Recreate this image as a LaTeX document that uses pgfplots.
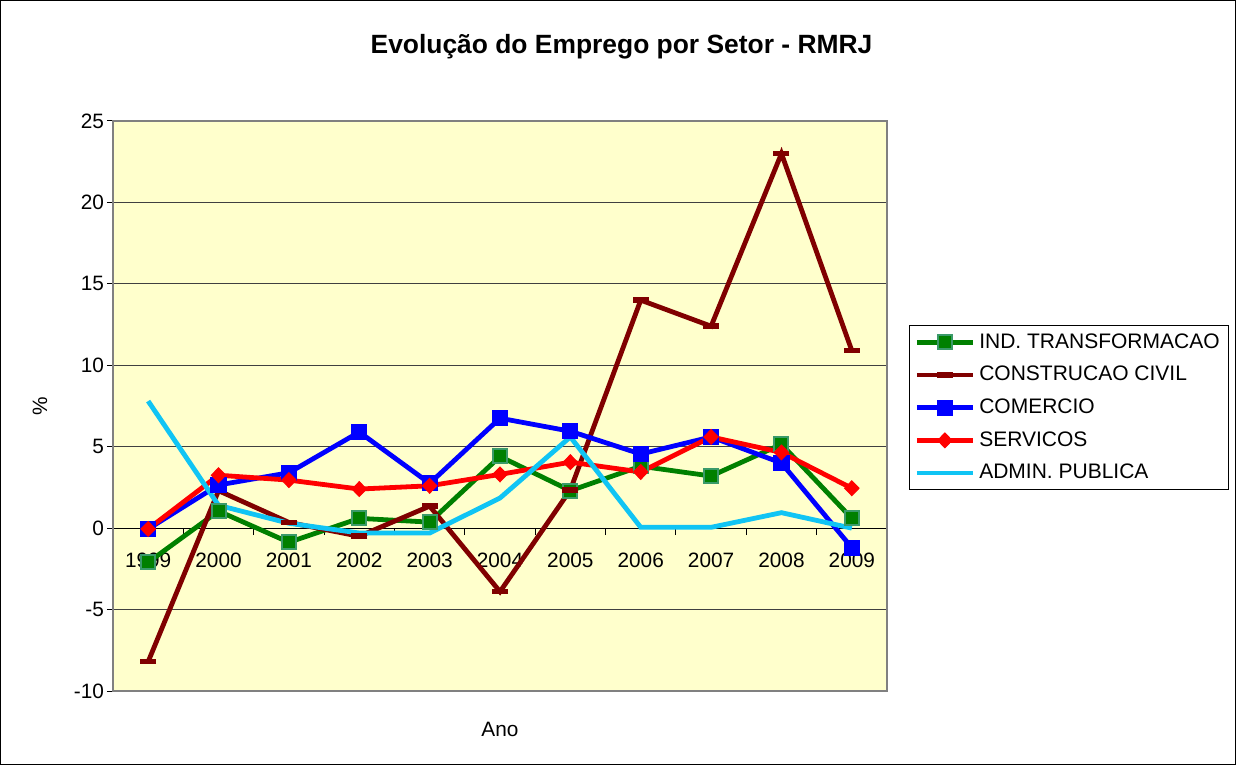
\documentclass[border=0pt]{standalone}
\usepackage{fontspec}
\setmainfont{Liberation Sans}
\usepackage{pgfplots}
\pgfplotsset{compat=1.18}
\definecolor{indg}{HTML}{008000}
\definecolor{indedge}{HTML}{3A9A6A}
\definecolor{consr}{HTML}{800000}
\definecolor{comb}{HTML}{0000FF}
\definecolor{servr}{HTML}{FF0000}
\definecolor{admc}{HTML}{10C4F4}
\definecolor{plotbg}{HTML}{FFFFCC}
\begin{document}
\begin{tikzpicture}
\useasboundingbox (-56.5pt,-37pt) rectangle (561.5pt,345.5pt);
\draw[black, line width=0.5pt] (-56.25pt,-36.75pt) rectangle (561.25pt,345.25pt);
\node[anchor=base, font=\fontsize{13.2}{15}\selectfont\bfseries] at (254.25pt,318.75pt) {Evolução do Emprego por Setor - RMRJ};
\begin{axis}[
  scale only axis, width=387pt, height=285pt,
  xmin=-0.5, xmax=10.5, ymin=-10, ymax=25,
  axis x line=middle, axis y line=left, axis line style={-},
  y axis line style={draw=gray},
  x axis line style={black, line width=0.5pt},
  clip=false,
  axis background/.style={fill=plotbg},
  ytick={-10,-5,0,5,10,15,20,25},
  xtick={0,1,2,3,4,5,6,7,8,9,10},
  xticklabels={1999,2000,2001,2002,2003,2004,2005,2006,2007,2008,2009},
  major x tick style={draw=none},
  minor xtick={0.5,1.5,2.5,3.5,4.5,5.5,6.5,7.5,8.5,9.5},
  minor tick length=3.5pt,
  major tick length=3pt,
  tick align=outside,
  tick style={black, line width=0.5pt},
  ymajorgrids,
  grid style={black!75, line width=0.5pt},
  /pgf/number format/assume math mode=true,
  ticklabel style={font=\fontsize{10.4}{12}\selectfont},
  xticklabel style={yshift=-6pt},
  yticklabel style={xshift=2pt},
  xlabel={Ano}, ylabel={\%},
  every axis x label/.style={at={(rel axis cs:0.5,0)}, yshift=-19pt, anchor=center, font=\fontsize{10.4}{12}\selectfont},
  every axis y label/.style={at={(rel axis cs:0,0.5)}, xshift=-36.5pt, rotate=90, anchor=center, font=\fontsize{10.4}{12}\selectfont},
  legend cell align=left,
  legend style={at={(rel axis cs:1.0284,0.642)}, anchor=north west, draw=black, line width=0.5pt,
    font=\fontsize{10.5}{12}\selectfont, inner xsep=2.5pt, inner ysep=2pt, row sep=3.5pt},
  legend image code/.code={\draw[mark repeat=2,mark phase=2] plot coordinates {(0pt,0pt) (14pt,0pt) (28pt,0pt)};},
]
\addplot[color=indg, line width=2.4pt, mark=square*, mark size=3.5pt, mark options={solid, fill=indg, draw=indedge, line width=1pt}]
 coordinates {(0,-2.1)(1,1.05)(2,-0.87)(3,0.6)(4,0.37)(5,4.4)(6,2.3)(7,3.8)(8,3.2)(9,5.15)(10,0.6)};
\addlegendentry{IND. TRANSFORMACAO}
\addplot[color=consr, line width=2.4pt, mark=-, mark size=4pt, mark options={solid, line width=2.8pt}]
 coordinates {(0,-8.2)(1,2.3)(2,0.35)(3,-0.5)(4,1.35)(5,-3.9)(6,2.35)(7,14.0)(8,12.4)(9,23.0)(10,10.9)};
\addlegendentry{CONSTRUCAO CIVIL}
\addplot[color=comb, line width=2.4pt, mark=square*, mark size=3.8pt, mark options={solid, fill=comb, line width=0.5pt}]
 coordinates {(0,-0.05)(1,2.65)(2,3.4)(3,5.9)(4,2.75)(5,6.75)(6,5.95)(7,4.55)(8,5.6)(9,4.0)(10,-1.2)};
\addlegendentry{COMERCIO}
\addplot[color=servr, line width=2.4pt, mark=diamond*, mark size=3.7pt, mark options={solid, fill=servr, line width=0.5pt, xscale=1.3}]
 coordinates {(0,-0.05)(1,3.25)(2,2.95)(3,2.4)(4,2.6)(5,3.3)(6,4.05)(7,3.45)(8,5.6)(9,4.65)(10,2.45)};
\addlegendentry{SERVICOS}
\addplot[color=admc, line width=2.4pt, no markers]
 coordinates {(0,7.8)(1,1.4)(2,0.3)(3,-0.3)(4,-0.3)(5,1.85)(6,5.6)(7,0.05)(8,0.05)(9,0.95)(10,0)};
\addlegendentry{ADMIN. PUBLICA}
\draw[gray, line width=0.75pt] (rel axis cs:0,0) rectangle (rel axis cs:1,1);
\end{axis}
\end{tikzpicture}
\end{document}
